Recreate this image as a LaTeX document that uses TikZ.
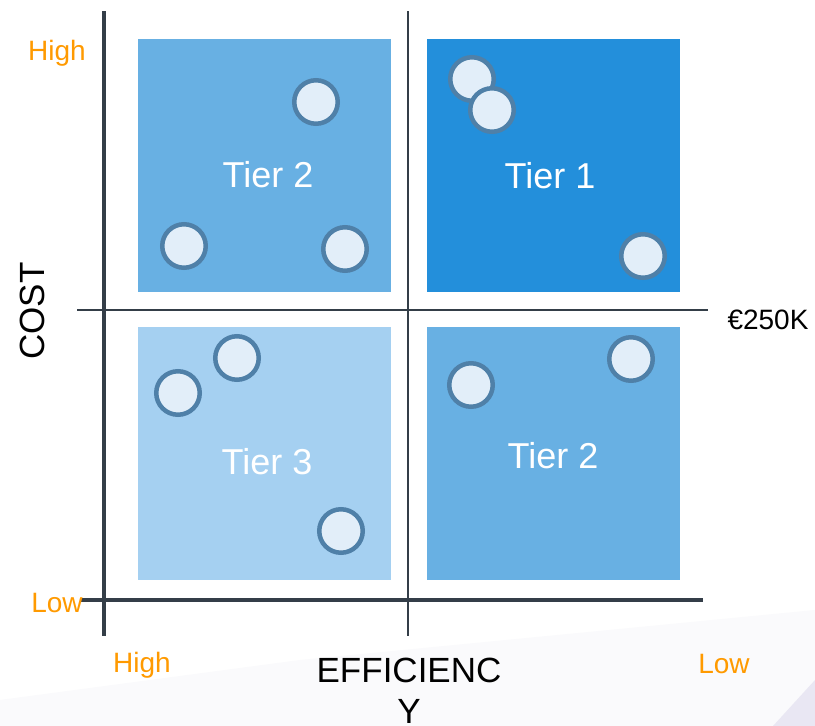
\documentclass[tikz,border=0pt]{standalone}
\usepackage{fontspec}
\setmainfont{Liberation Sans}
\begin{document}
\begin{tikzpicture}[x=1pt,y=-1pt,
  axis/.style={draw=axisgray,line width=4pt},
  midline/.style={draw=axisgray,line width=2.5pt},
  tierbox/.style={minimum width=253pt,minimum height=253pt,inner sep=0pt,anchor=north west},
  tiertext/.style={text=white,font=\fontsize{36}{36}\selectfont},
  dot/.style={circle,minimum size=43.5pt,inner sep=0pt,fill=dotfill,draw=dotedge,line width=4.5pt},
  scale label/.style={text=scaleorange,font=\fontsize{28}{28}\selectfont},
  axis title/.style={text=black,font=\fontsize{35}{35}\selectfont}]
\definecolor{axisgray}{HTML}{343E48}
\definecolor{tiertwo}{HTML}{68B0E3}
\definecolor{tierone}{HTML}{238FDB}
\definecolor{tierthree}{HTML}{A5D0F1}
\definecolor{dotfill}{HTML}{E2EEF9}
\definecolor{dotedge}{HTML}{4F80A8}
\definecolor{scaleorange}{HTML}{FF9A00}
\definecolor{haze}{HTML}{E9E7F3}
\definecolor{haze2}{HTML}{FAFAFC}

\useasboundingbox (0,0) rectangle (815,726);
\fill[white] (0,0) rectangle (815,726);
% faint background wedges
\fill[haze2] (0,726) -- (0,700) -- (300,660) -- (815,610) -- (815,726) -- cycle;
\fill[haze] (773,726) -- (815,680) -- (815,726) -- cycle;

% quadrants
\node[tierbox,fill=tiertwo] (q2) at (138,39) {};
\node[tierbox,fill=tierone] (q1) at (427,39) {};
\node[tierbox,fill=tierthree] (q3) at (138,327) {};
\node[tierbox,fill=tiertwo] (q4) at (427,327) {};

\node[tiertext] (t2a) at (268,175) {Tier 2};
\node[tiertext] (t1) at (550,176) {Tier 1};
\node[tiertext] (t3) at (267,462) {Tier 3};
\node[tiertext] (t2b) at (553,456) {Tier 2};

% axes
\coordinate (ytop) at (104,11);
\coordinate (ybot) at (104,636);
\coordinate (xleft) at (80,600);
\coordinate (xright) at (703,600);
\coordinate (mtop) at (408,11);
\coordinate (mbot) at (408,636);
\coordinate (mleft) at (77,310);
\coordinate (mright) at (708,310);
\draw[midline] (mtop) -- (mbot);
\draw[midline] (mleft) -- (mright);
\draw[axis] (ytop) -- (ybot);
\draw[axis] (xleft) -- (xright);

% data points
\node[dot] (p1) at (316,102) {};
\node[dot] (p2) at (184,246) {};
\node[dot] (p3) at (345,249) {};
\node[dot] (p4) at (472,79) {};
\node[dot] (p5) at (492,110) {};
\node[dot] (p6) at (643,256) {};
\node[dot] (p7) at (237,358) {};
\node[dot] (p8) at (178,393) {};
\node[dot] (p9) at (341,531) {};
\node[dot] (p10) at (471,385) {};
\node[dot] (p11) at (631,359) {};

% labels
\node[scale label] (costhigh) at (57,53) {High};
\node[scale label] (costlow) at (57,603) {Low};
\node[scale label] (effhigh) at (142,665) {High};
\node[scale label] (efflow) at (724,664) {Low};
\node[axis title] (eff1) at (409,670) {EFFICIENC};
\node[axis title] (eff2) at (409,711) {Y};
\node[axis title,rotate=90] (cost) at (32,311) {COST};
\node[text=black,font=\fontsize{28}{28}\selectfont] (threshold) at (768,320) {€250K};
\end{tikzpicture}
\end{document}
